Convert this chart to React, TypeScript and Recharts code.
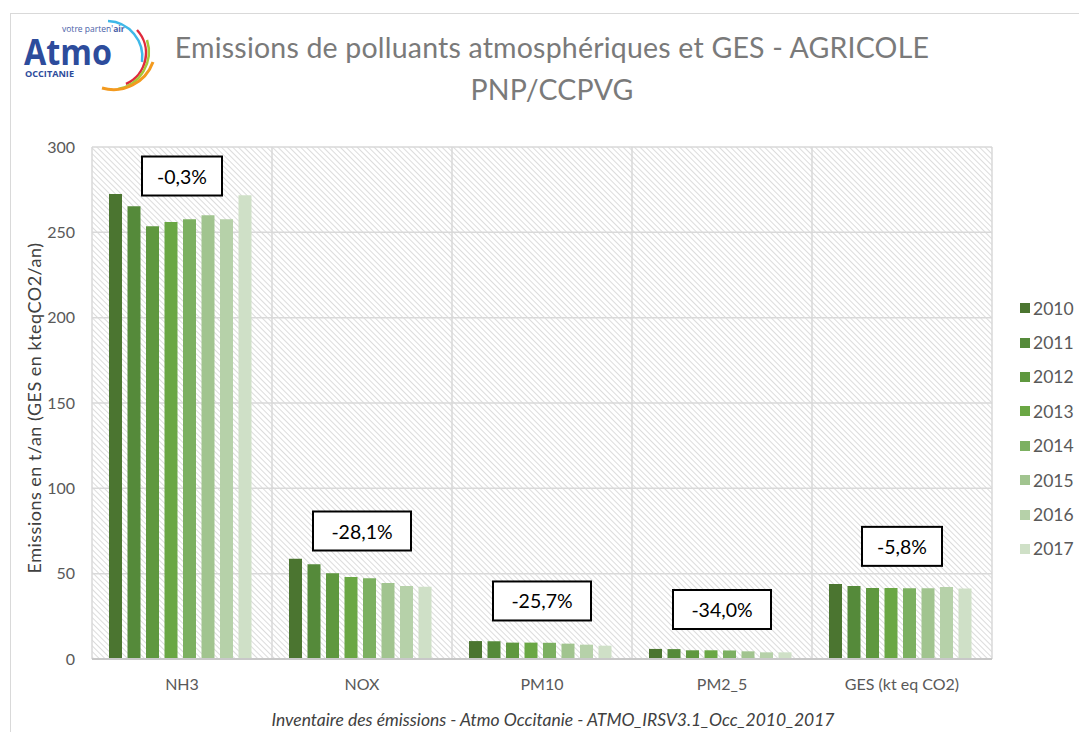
import React from "react";
import {
  BarChart,
  Bar,
  XAxis,
  YAxis,
  CartesianGrid,
  Legend,
  ReferenceDot,
} from "recharts";

const categories = ["NH3", "NOX", "PM10", "PM2_5", "GES (kt eq CO2)"];
const years = ["2010", "2011", "2012", "2013", "2014", "2015", "2016", "2017"];

// one array per year, in the order of categories
const v2010 = [272.5, 58.8, 10.5, 5.9, 43.9];
const v2011 = [265.3, 55.5, 10.4, 5.8, 42.8];
const v2012 = [253.6, 50.2, 9.6, 5.1, 41.6];
const v2013 = [256.0, 48.0, 9.6, 5.1, 41.6];
const v2014 = [257.7, 47.3, 9.5, 5.0, 41.5];
const v2015 = [260.0, 44.5, 9.0, 4.5, 41.5];
const v2016 = [257.7, 42.8, 8.4, 3.9, 42.2];
const v2017 = [271.7, 42.3, 7.8, 3.9, 41.3];

const yearColors = [
  "#4b7530",
  "#558a3a",
  "#5f983f",
  "#6aa744",
  "#7cb061",
  "#a1c48f",
  "#b6d1a9",
  "#cfe0c7",
];

// evolution 2010 -> 2017 boxes
const changes = ["-0,3%", "-28,1%", "-25,7%", "-34,0%", "-5,8%"];
const changeLevel = [283, 75, 34, 29, 66];

const yTicks = [0, 50, 100, 150, 200, 250, 300];

const series = [v2010, v2011, v2012, v2013, v2014, v2015, v2016, v2017];

const chartData = categories.map((name, i) => {
  const row: Record<string, any> = { name };
  years.forEach((y, k) => {
    row[y] = series[k][i];
  });
  return row;
});

const FONT = "Lato, 'Open Sans', sans-serif";

const ChangeBox = (props: any) => {
  const { cx, cy, label } = props;
  const w = 18 * label.length - 10;
  const h = 39;
  return (
    <g>
      <rect
        x={cx - w / 2}
        y={cy - h / 2}
        width={w}
        height={h}
        fill="#ffffff"
        stroke="#000000"
        strokeWidth={2}
      />
      <text
        x={cx}
        y={cy}
        textAnchor="middle"
        dominantBaseline="central"
        fontSize={19.5}
        fill="#000000"
        fontFamily={FONT}
      >
        {label}
      </text>
    </g>
  );
};

const renderLegend = () => (
  <div style={{ fontFamily: FONT }}>
    {years.map((y, k) => (
      <div
        key={y}
        style={{ display: "flex", alignItems: "center", height: 34.4 }}
      >
        <div
          style={{
            width: 10,
            height: 10,
            background: yearColors[k],
            marginRight: 3,
          }}
        />
        <span style={{ fontSize: 17.5, color: "#595959" }}>{y}</span>
      </div>
    ))}
  </div>
);

const Logo = () => (
  <svg
    width={170}
    height={100}
    style={{ position: "absolute", left: 0, top: 0 }}
  >
    <text
      x={62}
      y={32}
      fontSize={8.5}
      fill="#4a62a8"
      fontFamily="'Open Sans', sans-serif"
    >
      votre parten'<tspan fontWeight="bold">air</tspan>
    </text>
    <text
      x={24}
      y={65}
      fontSize={35}
      fontWeight="bold"
      fill="#2d4c9c"
      fontFamily="'Open Sans', sans-serif"
      textLength={88}
      lengthAdjust="spacingAndGlyphs"
    >
      Atmo
    </text>
    <text
      x={25}
      y={77}
      fontSize={9.5}
      fontWeight="bold"
      fill="#2d4c9c"
      fontFamily="'Open Sans', sans-serif"
      textLength={49}
      lengthAdjust="spacingAndGlyphs"
    >
      OCCITANIE
    </text>
    <path d="M108 21 A36 36 0 0 1 142 62" fill="none" stroke="#3fb8e8" strokeWidth={2.5} />
    <path d="M137 30 A34 34 0 0 1 126 84" fill="none" stroke="#e02a3c" strokeWidth={2.5} />
    <path d="M147 40 A38 38 0 0 1 118 89" fill="none" stroke="#a8c83a" strokeWidth={2.5} />
    <path d="M153 62 A42 42 0 0 1 102 88" fill="none" stroke="#f39a1f" strokeWidth={3} />
  </svg>
);

export default function App() {
  return (
    <div
      style={{
        position: "absolute",
        left: 0,
        top: 0,
        width: 1079,
        height: 732,
        overflow: "hidden",
        background: "#ffffff",
        fontFamily: FONT,
      }}
    >
      <div
        style={{
          position: "absolute",
          left: 10,
          top: 13,
          width: 1200,
          height: 900,
          border: "1.5px solid #d9d9d9",
        }}
      />
      <Logo />
      <div
        style={{
          position: "absolute",
          left: 0,
          top: 26,
          width: 1104,
          textAlign: "center",
          fontSize: 28.5,
          letterSpacing: 0.2,
          lineHeight: "42px",
          color: "#7a7a7a",
        }}
      >
        Emissions de polluants atmosphériques et GES - AGRICOLE
        <br />
        PNP/CCPVG
      </div>
      <div
        style={{
          position: "absolute",
          left: 34,
          top: 408,
          transform: "translate(-50%, -50%) rotate(-90deg)",
          whiteSpace: "nowrap",
          fontSize: 18,
          letterSpacing: 0.5,
          color: "#404040",
        }}
      >
        Emissions en t/an (GES en kteqCO2/an)
      </div>
      <div
        style={{
          position: "absolute",
          left: 0,
          top: 709,
          width: 1106,
          textAlign: "center",
          fontSize: 17.5,
          fontStyle: "italic",
          color: "#404040",
        }}
      >
        Inventaire des émissions - Atmo Occitanie - ATMO_IRSV3.1_Occ_2010_2017
      </div>
      <div style={{ position: "absolute", left: 0, top: 0 }}>
        <BarChart
          width={1079}
          height={732}
          data={chartData}
          margin={{ top: 147, right: 87, bottom: 43, left: 32 }}
          barCategoryGap={17}
          barGap={5.5}
        >
          <defs>
            <pattern
              id="hatch"
              width={4}
              height={4}
              patternUnits="userSpaceOnUse"
              patternTransform="rotate(-45)"
            >
              <rect width={4} height={4} fill="#ffffff" />
              <line x1={0} y1={0} x2={0} y2={4} stroke="#d4d4d4" strokeWidth={1.6} />
            </pattern>
          </defs>
          <CartesianGrid
            fill="url(#hatch)"
            fillOpacity={1}
            stroke="#d9d9d9"
            strokeWidth={1.5}
            horizontalValues={yTicks}
            verticalCoordinatesGenerator={({ offset }: any) =>
              categories
                .concat([""])
                .map((_, i) => offset.left + (i * offset.width) / categories.length)
            }
          />
          <XAxis
            dataKey="name"
            tickLine={false}
            axisLine={{ stroke: "#c8c8c8", strokeWidth: 2 }}
            tick={{ fill: "#595959", fontSize: 16, fontFamily: FONT }}
            tickMargin={14}
            height={30}
          />
          <YAxis
            domain={[0, 300]}
            ticks={yTicks}
            width={60}
            axisLine={false}
            tickLine={false}
            tick={{ fill: "#595959", fontSize: 16, fontFamily: FONT }}
            tickMargin={11}
          />
          <Legend
            layout="vertical"
            align="center"
            verticalAlign="middle"
            content={renderLegend}
            wrapperStyle={{ left: 1020, top: 291, width: 60 }}
          />
          {years.map((y, k) => (
            <Bar
              key={y}
              dataKey={y}
              fill={yearColors[k]}
              isAnimationActive={false}
            />
          ))}
          {categories.map((c, i) => (
            <ReferenceDot
              key={c}
              x={c}
              y={changeLevel[i]}
              r={0}
              shape={(p: any) => <ChangeBox {...p} label={changes[i]} />}
            />
          ))}
        </BarChart>
      </div>
    </div>
  );
}
